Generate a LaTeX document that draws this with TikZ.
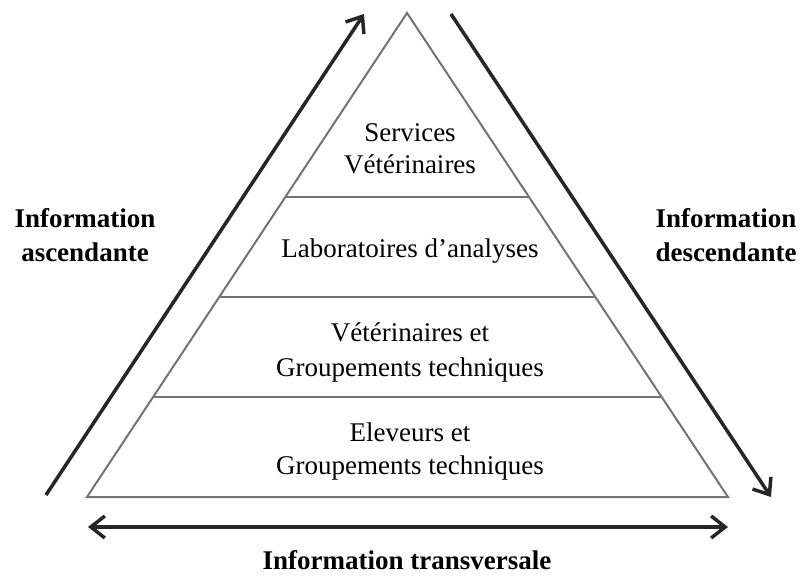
\documentclass[tikz,border=0pt]{standalone}
\usepackage{fontspec}
\setmainfont{Liberation Serif}
\usetikzlibrary{arrows.meta,calc}
\begin{document}
\begin{tikzpicture}[x=1pt,y=-1pt,
  tri/.style={draw=black!55,line width=2pt,line join=miter},
  lvl/.style={draw=black!55,line width=2pt},
  flow/.style={draw=black!85,line width=3.5pt,-{Straight Barb[length=14pt,width=22pt,line width=3.5pt]}},
  flowboth/.style={draw=black!85,line width=3.5pt,{Straight Barb[length=14pt,width=22pt,line width=3.5pt]}-{Straight Barb[length=14pt,width=22pt,line width=3.5pt]}},
  txt/.style={anchor=base,inner sep=0pt,font=\fontsize{27}{34}\selectfont},
  btxt/.style={anchor=base,inner sep=0pt,font=\fontsize{27}{34}\selectfont\bfseries}]
\useasboundingbox (0,0) rectangle (804,577);
\coordinate (A) at (407,13);
\coordinate (BL) at (87,497);
\coordinate (BR) at (728,497);
\draw[tri] (A) -- (BL) -- (BR) -- cycle;
\coordinate (l1) at ($(A)!0.380!(BL)$);
\coordinate (r1) at ($(A)!0.380!(BR)$);
\coordinate (l2) at ($(A)!0.5868!(BL)$);
\coordinate (r2) at ($(A)!0.5868!(BR)$);
\coordinate (l3) at ($(A)!0.7934!(BL)$);
\coordinate (r3) at ($(A)!0.7934!(BR)$);
\draw[lvl] (l1) -- (r1);
\draw[lvl] (l2) -- (r2);
\draw[lvl] (l3) -- (r3);
% arrows
\coordinate (asc0) at (46,495);
\coordinate (asc1) at (364,14);
\coordinate (des0) at (451,14);
\coordinate (des1) at (771,497);
\coordinate (tr0) at (88,527);
\coordinate (tr1) at (728,527);
\draw[flow] (asc0) -- (asc1);
\draw[flow] (des0) -- (des1);
\draw[flowboth] (tr0) -- (tr1);
% level texts
\node[txt] (s1) at (410,142) {Services};
\node[txt] (s2) at (410,174) {Vétérinaires};
\node[txt] (lab) at (410,258) {Laboratoires d’analyses};
\node[txt] (v1) at (410,342) {Vétérinaires et};
\node[txt] (v2) at (410,377) {Groupements techniques};
\node[txt] (e1) at (410,442) {Eleveurs et};
\node[txt] (e2) at (410,475) {Groupements techniques};
% side labels
\node[btxt] (ia1) at (85,228) {Information};
\node[btxt] (ia2) at (85,262) {ascendante};
\node[btxt] (id1) at (726,228) {Information};
\node[btxt] (id2) at (726,262) {descendante};
\node[btxt] (it) at (407,569) {Information transversale};
\end{tikzpicture}
\end{document}
